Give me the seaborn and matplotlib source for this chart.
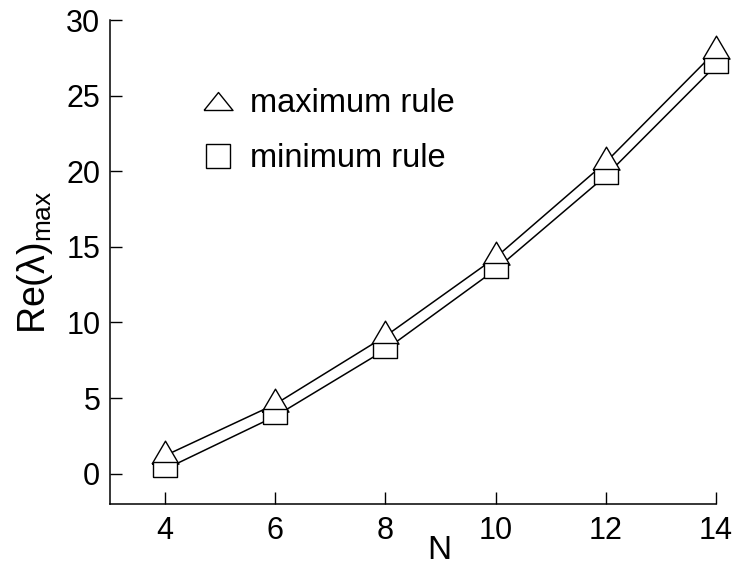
import matplotlib
matplotlib.use("Agg")
import matplotlib.pyplot as plt
from matplotlib.lines import Line2D
import numpy as np
import pandas as pd
import seaborn as sns

# Data
n_values = [4, 6, 8, 10, 12, 14]
max_rule = [1.2, 4.6, 9.1, 14.3, 20.6, 27.95]
min_rule = [0.3, 3.8, 8.2, 13.5, 19.7, 27.0]
x_ticks = [4, 6, 8, 10, 12, 14]
y_ticks = [0, 5, 10, 15, 20, 25, 30]
legend_labels = ["maximum rule", "minimum rule"]

sns.set_theme(style="ticks")
plt.rcParams["font.family"] = ["Liberation Sans", "DejaVu Sans"]
plt.rcParams["mathtext.fontset"] = "custom"
plt.rcParams["mathtext.rm"] = "Liberation Sans"
plt.rcParams["mathtext.it"] = "Liberation Sans:italic"
plt.rcParams["text.color"] = "black"
plt.rcParams["axes.labelcolor"] = "black"

df = pd.DataFrame({"N": n_values, "max": max_rule, "min": min_rule})

# Marker shapes: triangle anchored at its centroid, flat rectangle centred
tri_w, tri_h = 27.0, 23.0
tri_marker = [(-tri_w / 2, -tri_h / 3), (tri_w / 2, -tri_h / 3), (0, 2 * tri_h / 3), (-tri_w / 2, -tri_h / 3)]
tri_size_pt = 2 * (2 * tri_h / 3) * 0.72
rect_w, rect_h = 24.0, 15.0
rect_marker = [(-rect_w / 2, -rect_h / 2), (rect_w / 2, -rect_h / 2), (rect_w / 2, rect_h / 2),
               (-rect_w / 2, rect_h / 2), (-rect_w / 2, -rect_h / 2)]
rect_size_pt = rect_w * 0.72

fig = plt.figure(figsize=(7.34, 5.65), dpi=100)
ax = fig.add_axes([0.1499, 0.1080, 0.8256, 0.8566])

lw = 1.1
sns.lineplot(data=df, x="N", y="max", color="black", lw=lw, ax=ax, zorder=2)
sns.lineplot(data=df, x="N", y="min", color="black", lw=lw, ax=ax, zorder=2)
sns.scatterplot(data=df, x="N", y="max", marker=tri_marker, s=tri_size_pt ** 2,
                facecolor="white", edgecolor="black", linewidth=1.0, ax=ax, zorder=3, clip_on=False)
sns.scatterplot(data=df, x="N", y="min", marker=rect_marker, s=rect_size_pt ** 2,
                facecolor="white", edgecolor="black", linewidth=1.0, ax=ax, zorder=4, clip_on=False)

ax.set_xlim(3, 14)
ax.set_ylim(-2, 30)
ax.set_xticks(x_ticks)
ax.set_yticks(y_ticks)
ax.set_xticklabels([str(v) for v in x_ticks])
ax.set_yticklabels([str(v) for v in y_ticks])
ax.tick_params(direction="in", length=8.6, width=1.0, labelsize=22, pad=7,
               color="black", labelcolor="black")
ax.tick_params(axis="x", pad=9)
for side in ["top", "right"]:
    ax.spines[side].set_visible(False)
for side in ["left", "bottom"]:
    ax.spines[side].set_linewidth(1.1)
    ax.spines[side].set_color("black")

ax.set_xlabel("N", fontsize=24, color="black")
ax.set_ylabel("Re(λ)$_{\\mathrm{max}}$", fontsize=27, color="black")
ax.xaxis.set_label_coords(0.544, -0.064)
ax.yaxis.set_label_coords(-0.090, 0.5)

# Legend
leg_tri = [(-14.5, -9), (14.5, -9), (0, 9), (-14.5, -9)]
handles = [
    Line2D([], [], linestyle="none", marker=leg_tri, markersize=29 * 0.72,
           markerfacecolor="white", markeredgecolor="black", markeredgewidth=1.0),
    Line2D([], [], linestyle="none", marker="s", markersize=23.5 * 0.72,
           markerfacecolor="white", markeredgecolor="black", markeredgewidth=1.0),
]
leg = ax.legend(handles, legend_labels, loc="upper left", bbox_to_anchor=(198 / 734, 1 - 88 / 565),
                bbox_transform=fig.transFigure, frameon=False, fontsize=23.5, handlelength=1.2,
                handletextpad=0.4, labelspacing=0.75, borderpad=0, borderaxespad=0)
for t in leg.get_texts():
    t.set_color("black")

fig.savefig("out.png", dpi=100)
